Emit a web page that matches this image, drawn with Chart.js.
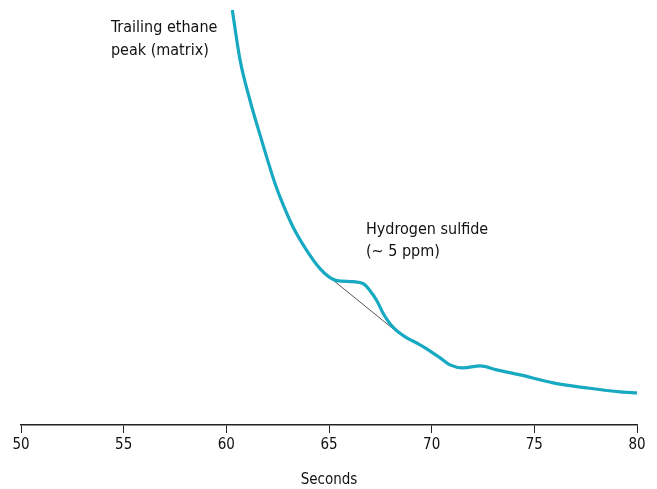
<!DOCTYPE html>
<html>
<head>
<meta charset="utf-8">
<script src="https://cdn.jsdelivr.net/npm/chart.js@4.4.1/dist/chart.umd.min.js"></script>
<style>
  html, body { margin: 0; padding: 0; background: #fff; }
  #wrap { width: 657px; height: 489px; }
</style>
</head>
<body>
<div id="wrap"><canvas id="chart" width="657" height="489"></canvas></div>
<script>
// Seconds and detector signal (arbitrary units)
const traceSeconds = [60.29, 60.67, 61.15, 61.72, 61.97, 62.37, 62.78, 63.26, 63.92, 64.56, 65.05, 65.38, 66.19, 66.67, 67.00, 67.33, 67.65, 67.97, 68.30, 68.79, 69.35, 69.76, 70.41, 70.89, 71.53, 72.36, 73.17, 74.31, 75.91, 77.55, 79.18, 80.00];
const traceSignal  = [414, 364, 324, 284, 267, 241, 219, 197, 174, 156, 147, 144, 143, 141, 134, 124, 111, 101, 94, 87, 81, 76, 67, 60, 57, 59, 55, 50, 42, 37, 33, 32];

// drop-line baseline under the H2S peak
const baseSeconds = [65.05, 68.30];
const baseSignal  = [147, 93];

const xTicks = [50, 55, 60, 65, 70, 75, 80];

const labels = [
    { text: ['Trailing ethane', 'peak (matrix)'], x: 54.38, y: 396 },
    { text: ['Hydrogen sulfide', '(~ 5 ppm)'], x: 66.80, y: 195 }
];

const FONT = '"Liberation Sans Narrow", "DejaVu Sans Condensed", "Roboto Condensed", sans-serif';

const toPoints = (xs, ys) => xs.map((x, i) => ({ x: x, y: ys[i] }));

const labelPlugin = {
    id: 'labelPlugin',
    afterDraw(chart) {
        const ctx = chart.ctx;
        const xs = chart.scales.x, ys = chart.scales.y;
        ctx.save();
        ctx.fillStyle = '#111';
        ctx.font = '16px ' + FONT;
        ctx.textBaseline = 'middle';
        ctx.textAlign = 'left';
        labels.forEach(l => {
            const px = xs.getPixelForValue(l.x);
            const py = ys.getPixelForValue(l.y);
            l.text.forEach((t, i) => ctx.fillText(t, px, py + i * 22.5));
        });
        ctx.restore();
    }
};

new Chart(document.getElementById('chart'), {
    type: 'line',
    data: {
        datasets: [
            {
                data: toPoints(traceSeconds, traceSignal),
                borderColor: '#17a9c1',
                borderWidth: 3.2,
                pointRadius: 0,
                cubicInterpolationMode: 'monotone'
            },
            {
                data: toPoints(baseSeconds, baseSignal),
                borderColor: '#555',
                borderWidth: 1,
                pointRadius: 0
            }
        ]
    },
    options: {
        responsive: false,
        animation: false,
        layout: { padding: { left: 21, right: 20, top: 0, bottom: 0 } },
        plugins: { legend: { display: false }, tooltip: { enabled: false } },
        scales: {
            x: {
                type: 'linear',
                min: 50,
                max: 80,
                afterBuildTicks: axis => { axis.ticks = xTicks.map(v => ({ value: v })); },
                grid: { display: true, drawOnChartArea: false, drawTicks: true, tickLength: 8, color: '#222' },
                border: { display: true, color: '#222', width: 1.5 },
                ticks: { color: '#111', font: { family: FONT, size: 15 }, padding: 3, maxRotation: 0 },
                title: { display: true, text: 'Seconds', color: '#111', font: { family: FONT, size: 15 }, padding: { top: 14, bottom: 0 } }
            },
            y: { display: false, min: 0, max: 424 }
        }
    },
    plugins: [labelPlugin]
});
</script>
</body>
</html>
